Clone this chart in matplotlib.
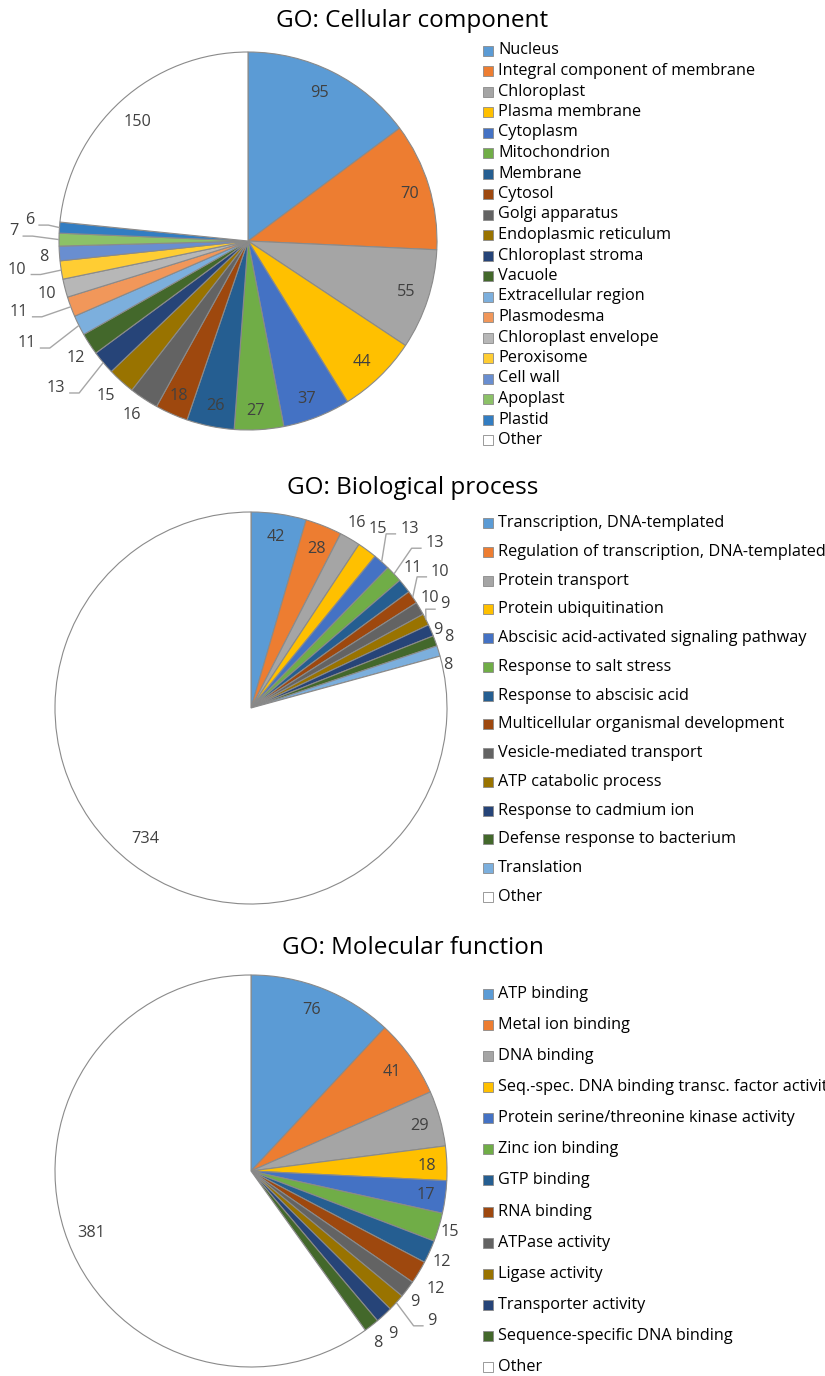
import matplotlib
matplotlib.use("Agg")
import matplotlib.pyplot as plt
import numpy as np
from matplotlib.patches import Rectangle

W, H = 825, 1376

# Office-style palette used by the original workbook
PALETTE = ["#5B9BD5", "#ED7D31", "#A5A5A5", "#FFC000", "#4472C4", "#70AD47",
           "#255E91", "#9E480E", "#636363", "#997300", "#264478", "#43682B",
           "#7CAFDD", "#F1975A", "#B7B7B7", "#FFCD33", "#698ED0", "#8CC168",
           "#327DC2"]
EDGE = "#8A8A8A"
LEADER = "#A6A6A6"
LABEL_C = "#404040"

cc_labels = ["Nucleus", "Integral component of membrane", "Chloroplast",
             "Plasma membrane", "Cytoplasm", "Mitochondrion", "Membrane",
             "Cytosol", "Golgi apparatus", "Endoplasmic reticulum",
             "Chloroplast stroma", "Vacuole", "Extracellular region",
             "Plasmodesma", "Chloroplast envelope", "Peroxisome", "Cell wall",
             "Apoplast", "Plastid", "Other"]
cc_values = [95, 70, 55, 44, 37, 27, 26, 18, 16, 15, 13, 12, 11, 11, 10, 10,
             8, 7, 6, 150]

bp_labels = ["Transcription, DNA-templated",
             "Regulation of transcription, DNA-templated",
             "Protein transport", "Protein ubiquitination",
             "Abscisic acid-activated signaling pathway",
             "Response to salt stress", "Response to abscisic acid",
             "Multicellular organismal development",
             "Vesicle-mediated transport", "ATP catabolic process",
             "Response to cadmium ion", "Defense response to bacterium",
             "Translation", "Other"]
bp_values = [42, 28, 16, 15, 13, 13, 11, 10, 10, 9, 9, 8, 8, 734]

mf_labels = ["ATP binding", "Metal ion binding", "DNA binding",
             "Seq.-spec. DNA binding transc. factor activity",
             "Protein serine/threonine kinase activity", "Zinc ion binding",
             "GTP binding", "RNA binding", "ATPase activity", "Ligase activity",
             "Transporter activity", "Sequence-specific DNA binding", "Other"]
mf_values = [76, 41, 29, 18, 17, 15, 12, 12, 9, 9, 9, 8, 381]

# data label placement: radius as fraction of pie radius, angle nudge (deg)
cc_lab_r = [0.87, 0.89, 0.88, 0.88, 0.89, 0.9, 0.89, 0.9,
            1.105, 1.11, 1.28, 1.10, 1.29, 1.27, 1.10, 1.23, 1.085, 1.24, 1.16, 0.86]
cc_lab_da = [-1.1, 0.7, -0.3, 0.8, 0.8, 0.7, -0.2, 0.1,
             0.3, 0.4, 2.6, -1.3, 1.8, 3.2, -0.2, 1.8, -0.7, 2.0, 1.4, -0.7]
cc_leaders = [10, 12, 13, 15, 17, 18]

bp_lab_r = [0.88, 0.88, 1.09, 1.12, 1.22, 1.26, 1.09, 1.19, 1.07, 1.12, 1.03,
            1.07, 1.03, 0.86]
bp_lab_da = [0, 0.6, -0.5, -1.1, -0.3, 1.3, -2.3, -1.3, -1.1, -1.4, 0.7, 0.3,
             4.6, 1.5]
bp_leaders = [4, 5, 7, 9]

mf_lab_r = [0.88, 0.88, 0.89, 0.9, 0.9, 1.06, 1.08, 1.12, 1.07, 1.2, 1.1, 1.09,
            0.875]
mf_lab_da = [-0.9, 0.3, 0.6, 0.7, 0.2, 0.3, 1.2, 1.3, 1.7, -2.6, 1.7, 1.5, -3.2]
mf_leaders = [9]

plt.rcParams["font.family"] = ["Open Sans", "DejaVu Sans"]
FS = 11.7

fig = plt.figure(figsize=(W / 100, H / 100), dpi=100)
ax = fig.add_axes([0, 0, 1, 1])
renderer = fig.canvas.get_renderer()


def reset_frame():
    # ax.pie rescales the axes; keep one pixel-based frame for the whole figure
    ax.set_xlim(0, W)
    ax.set_ylim(0, H)
    ax.set_aspect("equal")
    ax.axis("off")


def draw_pie(values, labels, cx, cy, R, title, title_y, lab_r, lab_da, leaders,
             leg_y0, leg_step):
    n = len(values)
    colors = PALETTE[:n - 1] + ["white"]
    ax.pie(values, colors=colors, startangle=90, counterclock=False,
           center=(cx, H - cy), radius=R,
           wedgeprops=dict(edgecolor=EDGE, linewidth=0.8))
    reset_frame()
    vals = np.array(values, dtype=float)
    mids = (np.cumsum(vals) - vals / 2) / vals.sum() * 360

    for i, v in enumerate(values):
        a = np.radians(mids[i] + lab_da[i])
        r = lab_r[i] * R
        x = cx + r * np.sin(a)
        y = cy - r * np.cos(a)
        t = ax.text(x, H - y, str(v), ha="center", va="center",
                    fontsize=FS, color=LABEL_C)
        if i in leaders:
            bb = t.get_window_extent(renderer)
            half_w = bb.width / 2
            am = np.radians(mids[i])
            ex = cx + R * np.sin(am)
            ey = cy - R * np.cos(am)
            ly = y + 5
            if x < cx:
                x0 = x + half_w + 4
                xs = [x0, x0 + 10, ex]
            else:
                x0 = x - half_w - 4
                xs = [x0, x0 - 10, ex]
            ys = [ly, ly, ey]
            ax.plot(xs, [H - yy for yy in ys], color=LEADER, lw=1.0,
                    solid_capstyle="butt")

    ax.text(W / 2, H - title_y, title, ha="center", va="center",
            fontsize=17.5, color="black")

    for i, name in enumerate(labels):
        yy = leg_y0 + i * leg_step
        ax.add_patch(Rectangle((483, H - yy - 5), 10, 10, facecolor=colors[i],
                               edgecolor=EDGE, linewidth=0.6))
        ax.text(498, H - yy, name, ha="left", va="center", fontsize=FS,
                color="black")


draw_pie(cc_values, cc_labels, 248, 241, 189, "GO: Cellular component", 21,
         cc_lab_r, cc_lab_da, cc_leaders, 50.5, 20.5)
draw_pie(bp_values, bp_labels, 251, 708, 196, "GO: Biological process", 488,
         bp_lab_r, bp_lab_da, bp_leaders, 523, 28.77)
draw_pie(mf_values, mf_labels, 251, 1171, 196, "GO: Molecular function", 948,
         mf_lab_r, mf_lab_da, mf_leaders, 994, 31.08)
reset_frame()

fig.savefig("out.png", dpi=100)
